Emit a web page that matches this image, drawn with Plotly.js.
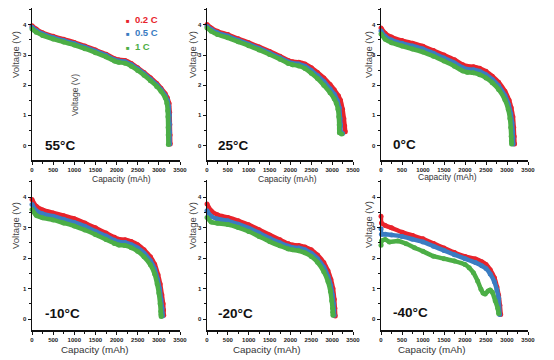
<!DOCTYPE html>
<html>
<head>
<meta charset="utf-8">
<script src="https://cdn.plot.ly/plotly-3.0.1.min.js"></script>
<style>html,body{margin:0;padding:0;background:#fff;}#chart{width:554px;height:360px;}</style>
</head>
<body>
<div id="chart"></div>
<script>
// ---------- DATA ----------
const panelLabels = ['55°C', '25°C', '0°C', '-10°C', '-20°C', '-40°C'];
const rateNames = ['0.2 C', '0.5 C', '1 C'];
const rateColors = ['#e8232b', '#3a7cc2', '#4cae46'];
const xTickVals = [0, 500, 1000, 1500, 2000, 2500, 3000, 3500];
const yTickVals = [0, 1, 2, 3, 4];

// 55 °C
const cap55_r = [0,100,250,500,750,1000,1250,1500,1750,1950,2050,2200,2350,2500,2650,2800,2950,3050,3150,3200,3240,3255,3260,3265,3270];
const v55_r   = [3.97,3.86,3.74,3.62,3.52,3.42,3.30,3.17,3.03,2.88,2.84,2.82,2.72,2.58,2.42,2.25,2.06,1.90,1.72,1.58,1.40,1.10,0.70,0.35,0.05];
const cap55_b = [0,100,250,500,750,1000,1250,1500,1750,1950,2050,2200,2350,2500,2650,2800,2950,3050,3150,3200,3230,3245,3250,3252,3255];
const v55_b   = [3.92,3.81,3.70,3.58,3.48,3.38,3.26,3.13,2.99,2.84,2.80,2.78,2.68,2.54,2.38,2.20,2.01,1.85,1.65,1.50,1.30,1.00,0.72,0.44,0.05];
const cap55_g = [0,100,250,500,750,1000,1250,1500,1750,1950,2050,2200,2350,2500,2650,2800,2950,3050,3150,3190,3210,3215,3220,3222,3225];
const v55_g   = [3.86,3.76,3.65,3.53,3.43,3.33,3.21,3.08,2.94,2.80,2.76,2.73,2.63,2.49,2.33,2.15,1.96,1.80,1.58,1.40,1.15,0.95,0.60,0.35,0.03];

// 25 °C
const cap25_r = [0,100,250,500,750,1000,1250,1500,1750,1950,2050,2200,2350,2500,2650,2800,2950,3050,3150,3200,3250,3280,3300,3315];
const v25_r   = [4.01,3.90,3.79,3.68,3.54,3.41,3.27,3.12,2.96,2.82,2.78,2.76,2.70,2.58,2.42,2.24,2.02,1.85,1.65,1.50,1.20,0.90,0.65,0.46];
const cap25_b = [0,100,250,500,750,1000,1250,1500,1750,1950,2050,2200,2350,2500,2650,2800,2950,3050,3120,3170,3190,3200,3210,3250];
const v25_b   = [3.95,3.85,3.74,3.63,3.49,3.36,3.22,3.07,2.91,2.77,2.73,2.70,2.63,2.49,2.32,2.12,1.88,1.70,1.50,1.25,0.90,0.68,0.44,0.40];
const cap25_g = [0,100,250,500,750,1000,1250,1500,1750,1950,2050,2200,2350,2500,2650,2800,2950,3050,3100,3140,3160,3170,3175,3230];
const v25_g   = [3.90,3.79,3.68,3.57,3.44,3.31,3.17,3.02,2.86,2.72,2.68,2.64,2.55,2.40,2.22,2.00,1.75,1.55,1.40,1.20,0.95,0.68,0.42,0.38];

// 0 °C
const cap0_r = [0,100,250,500,750,1000,1250,1500,1750,1950,2050,2200,2350,2500,2650,2800,2950,3050,3100,3140,3160,3170,3180];
const v0_r   = [3.90,3.72,3.60,3.48,3.39,3.29,3.15,3.00,2.84,2.68,2.63,2.61,2.56,2.46,2.30,2.10,1.80,1.50,1.25,0.95,0.60,0.30,0.05];
const cap0_b = [0,100,250,500,750,1000,1250,1500,1750,1950,2050,2200,2350,2500,2650,2800,2950,3040,3090,3120,3135,3140,3145];
const v0_b   = [3.80,3.62,3.50,3.39,3.30,3.20,3.06,2.90,2.74,2.58,2.53,2.51,2.46,2.35,2.19,1.98,1.66,1.35,1.05,0.75,0.45,0.25,0.05];
const cap0_g = [0,100,250,500,750,1000,1250,1500,1750,1950,2050,2200,2350,2500,2650,2800,2950,3030,3070,3090,3100,3105,3110];
const v0_g   = [3.70,3.52,3.41,3.30,3.20,3.10,2.96,2.80,2.63,2.47,2.43,2.41,2.35,2.24,2.08,1.86,1.52,1.20,0.90,0.60,0.30,0.15,0.05];

// -10 °C
const capm10_r = [0,100,250,500,750,1000,1250,1500,1750,1950,2050,2200,2350,2500,2650,2800,2900,2980,3030,3070,3100,3110,3115];
const vm10_r   = [3.92,3.70,3.58,3.48,3.39,3.29,3.15,2.99,2.82,2.68,2.62,2.60,2.54,2.44,2.27,2.04,1.80,1.45,1.15,0.80,0.50,0.30,0.12];
const capm10_b = [0,100,250,500,750,1000,1250,1500,1750,1950,2050,2200,2350,2500,2650,2800,2900,2970,3015,3050,3075,3080,3085];
const vm10_b   = [3.76,3.55,3.45,3.37,3.27,3.17,3.04,2.88,2.72,2.58,2.53,2.51,2.44,2.33,2.16,1.91,1.64,1.30,1.00,0.65,0.35,0.20,0.10];
const capm10_g = [0,100,250,500,750,1000,1250,1500,1750,1950,2050,2200,2350,2500,2650,2800,2900,2960,3000,3030,3045,3050,3055];
const vm10_g   = [3.59,3.40,3.32,3.25,3.15,3.05,2.92,2.77,2.61,2.48,2.43,2.41,2.34,2.22,2.04,1.78,1.48,1.15,0.85,0.50,0.25,0.15,0.08];

// -20 °C
const capm20_r = [0,100,250,500,750,1000,1250,1500,1750,1950,2050,2200,2350,2500,2650,2800,2900,2970,3020,3050,3065,3075];
const vm20_r   = [3.77,3.55,3.42,3.33,3.22,3.09,2.93,2.76,2.60,2.47,2.43,2.41,2.36,2.27,2.10,1.85,1.58,1.30,1.00,0.65,0.35,0.10];
const capm20_b = [0,100,250,500,750,1000,1250,1500,1750,1950,2050,2200,2350,2500,2650,2800,2900,2965,3005,3030,3040,3045];
const vm20_b   = [3.55,3.37,3.28,3.22,3.11,2.98,2.82,2.65,2.50,2.39,2.35,2.33,2.27,2.16,1.98,1.70,1.40,1.10,0.80,0.50,0.30,0.12];
const capm20_g = [0,100,250,500,750,1000,1250,1500,1750,1950,2050,2200,2350,2500,2650,2800,2900,2960,2990,3010,3015,3020];
const vm20_g   = [3.33,3.18,3.14,3.10,3.00,2.87,2.71,2.54,2.40,2.30,2.27,2.24,2.17,2.05,1.86,1.55,1.23,0.90,0.60,0.35,0.22,0.12];

// -40 °C
const capm40_r = [0,10,100,250,500,750,1000,1250,1500,1750,2000,2250,2400,2500,2600,2700,2760,2800,2830,2850];
const vm40_r   = [3.37,3.15,3.07,2.99,2.85,2.74,2.63,2.48,2.33,2.18,2.05,1.97,1.88,1.79,1.62,1.35,1.05,0.78,0.45,0.15];
const capm40_b = [0,10,100,250,500,750,1000,1250,1500,1750,2000,2250,2400,2500,2600,2700,2760,2800,2825];
const vm40_b   = [2.96,2.78,2.78,2.76,2.71,2.62,2.53,2.39,2.25,2.11,1.98,1.85,1.75,1.66,1.48,1.22,0.95,0.68,0.15];
const capm40_g = [0,10,100,200,400,600,800,1000,1250,1500,1750,2000,2100,2200,2300,2380,2430,2480,2550,2600,2650,2720,2780,2800];
const vm40_g   = [2.42,2.56,2.61,2.53,2.56,2.47,2.34,2.22,2.06,1.98,1.90,1.79,1.68,1.52,1.25,0.98,0.85,0.82,0.92,0.95,0.88,0.60,0.35,0.18];

const panels = [
  [[cap55_r, v55_r], [cap55_b, v55_b], [cap55_g, v55_g]],
  [[cap25_r, v25_r], [cap25_b, v25_b], [cap25_g, v25_g]],
  [[cap0_r, v0_r], [cap0_b, v0_b], [cap0_g, v0_g]],
  [[capm10_r, vm10_r], [capm10_b, vm10_b], [capm10_g, vm10_g]],
  [[capm20_r, vm20_r], [capm20_b, vm20_b], [capm20_g, vm20_g]],
  [[capm40_r, vm40_r], [capm40_b, vm40_b], [capm40_g, vm40_g]]
];

// ---------- LAYOUT ----------
const W = 554, H = 360;
const fx = p => p / W;
const fy = p => 1 - p / H;
const colPx = [[32, 180], [207, 353], [381, 528]];
const rowPx = [[8, 160], [180, 330]];
const rowRange = [[-0.48, 4.56], [-0.36, 4.56]];
const FONT = 'Arial, "Liberation Sans", sans-serif';

const traces = [];
const layout = {
  width: W, height: H,
  margin: {l: 0, r: 0, t: 0, b: 0},
  paper_bgcolor: '#fff', plot_bgcolor: 'rgba(0,0,0,0)',
  showlegend: false,
  font: {family: FONT, color: '#222'},
  annotations: []
};

panels.forEach((series, i) => {
  const r = Math.floor(i / 3), c = i % 3;
  const n = i + 1;
  const xa = 'xaxis' + (n === 1 ? '' : n), ya = 'yaxis' + (n === 1 ? '' : n);
  const xr = 'x' + (n === 1 ? '' : n), yr = 'y' + (n === 1 ? '' : n);
  series.forEach((s, k) => {
    traces.push({
      type: 'scatter', mode: 'lines+markers',
      x: s[0], y: s[1], xaxis: xr, yaxis: yr,
      name: rateNames[k],
      line: {color: rateColors[k], width: 4.5, shape: 'spline', smoothing: 0.6},
      marker: {color: rateColors[k], size: 5},
      cliponaxis: false
    });
  });
  layout[xa] = {
    domain: [fx(colPx[c][0]), fx(colPx[c][1])],
    anchor: yr, range: [0, 3500], tickvals: xTickVals,
    showgrid: false, zeroline: false, showline: true, linecolor: '#111', linewidth: 1.5,
    ticks: 'outside', ticklen: 3, tickwidth: 1, tickcolor: '#111',
    minor: {ticks: 'outside', ticklen: 2, tickcolor: '#111', dtick: 250, showgrid: false},
    tickfont: {size: 6, family: FONT, color: '#222', weight: 'bold'}
  };
  layout[ya] = {
    domain: [fy(rowPx[r][1]), fy(rowPx[r][0])],
    anchor: xr, range: rowRange[r], tickvals: yTickVals,
    showgrid: false, zeroline: false, showline: true, linecolor: '#111', linewidth: 1.5,
    ticks: 'outside', ticklen: 3, tickwidth: 1, tickcolor: '#111',
    minor: {ticks: 'outside', ticklen: 2, tickcolor: '#111', dtick: 0.5, showgrid: false},
    tickfont: {size: 6, family: FONT, color: '#222', weight: 'bold'}
  };
});

// text positions (px)
const tempPos = [[43, 145], [216, 145], [391, 144], [43, 313], [216, 313], [391, 312]];
const vTitlePos = [[15, 55], [192, 55], [368, 55], [15, 226], [192, 226], [368, 225]];
const cTitlePos = [[121, 179, 8.5], [287, 179, 8.5], [448, 177, 8.5], [95, 349, 9.8], [267, 349, 9.8], [432, 349, 9.8]];

panelLabels.forEach((t, i) => {
  layout.annotations.push({
    xref: 'paper', yref: 'paper', x: fx(tempPos[i][0]), y: fy(tempPos[i][1]),
    xanchor: 'left', yanchor: 'middle', showarrow: false,
    text: '<b>' + t + '</b>', font: {size: 13.5, family: FONT, color: '#111'}
  });
  layout.annotations.push({
    xref: 'paper', yref: 'paper', x: fx(vTitlePos[i][0]), y: fy(vTitlePos[i][1]),
    xanchor: 'center', yanchor: 'middle', showarrow: false, textangle: -90,
    text: 'Voltage (V)', font: {size: 9.5, family: FONT, color: '#444'}
  });
  layout.annotations.push({
    xref: 'paper', yref: 'paper', x: fx(cTitlePos[i][0]), y: fy(cTitlePos[i][1]),
    xanchor: 'center', yanchor: 'middle', showarrow: false,
    text: 'Capacity (mAh)', font: {size: cTitlePos[i][2], family: FONT, color: '#333'}
  });
});
// stray axis title inside first panel
layout.annotations.push({
  xref: 'paper', yref: 'paper', x: fx(75), y: fy(95),
  xanchor: 'center', yanchor: 'middle', showarrow: false, textangle: -90,
  text: 'Voltage (V)', font: {size: 8.5, family: FONT, color: '#444'}
});
// legend (in first panel)
const legendPos = [[124, 19], [124, 32.5], [124, 46]];
rateNames.forEach((nm, k) => {
  layout.annotations.push({
    xref: 'paper', yref: 'paper', x: fx(legendPos[k][0]), y: fy(legendPos[k][1]),
    xanchor: 'left', yanchor: 'middle', showarrow: false,
    text: '<span style="font-size:6px">■</span>  <b>' + nm + '</b>',
    font: {size: 9.5, family: FONT, color: rateColors[k]}
  });
});

Plotly.newPlot('chart', traces, layout, {staticPlot: true, displayModeBar: false});
</script>
</body>
</html>
